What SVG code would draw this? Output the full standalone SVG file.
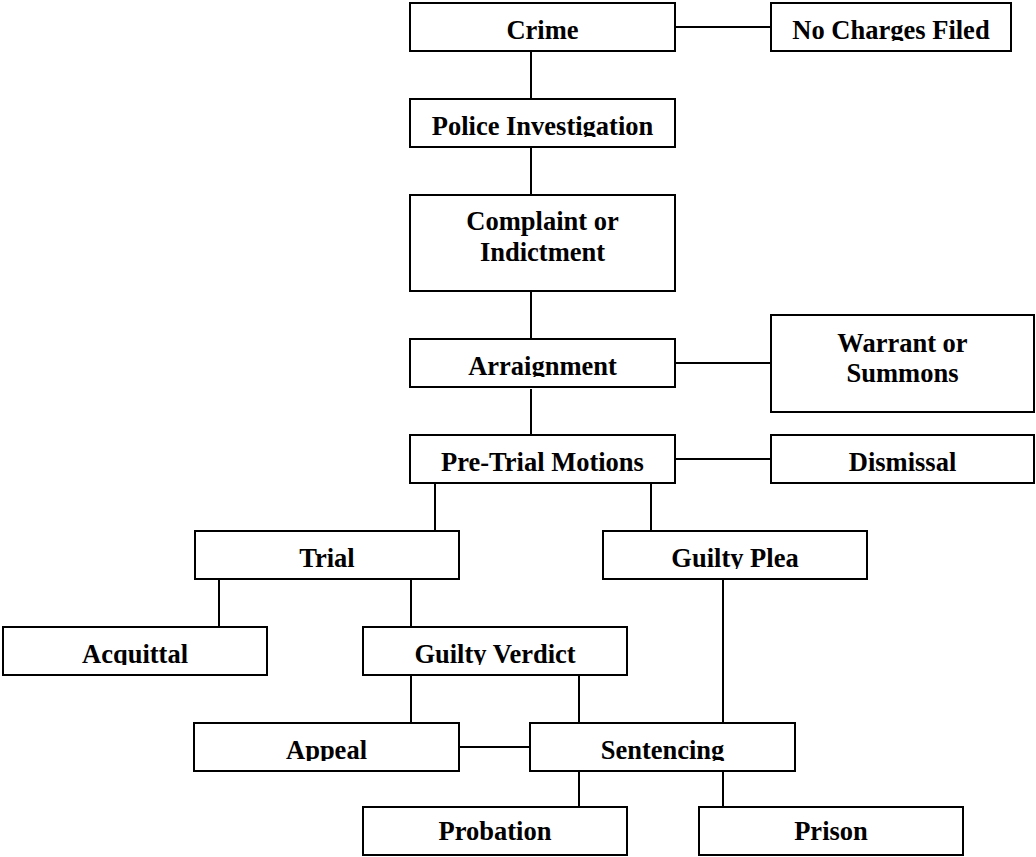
<svg xmlns="http://www.w3.org/2000/svg" width="1036" height="857" viewBox="0 0 1036 857">
  <style>
    .box { fill: #ffffff; stroke: #000000; stroke-width: 2; }
    .lbl { font-family: "Liberation Serif", "Times New Roman", serif; font-weight: bold; font-size: 26.5px; fill: #000000; text-anchor: middle; }
    .conn line { stroke: #000000; stroke-width: 2; }
  </style>
  <defs>
    <clipPath id="r1"><rect x="0" y="0" width="1036" height="41"/></clipPath>
    <clipPath id="r2"><rect x="0" y="99" width="1036" height="38"/></clipPath>
    <clipPath id="r5"><rect x="0" y="339" width="1036" height="38"/></clipPath>
    <clipPath id="r9"><rect x="0" y="531" width="1036" height="38"/></clipPath>
    <clipPath id="r11"><rect x="0" y="627" width="1036" height="38"/></clipPath>
    <clipPath id="r13"><rect x="0" y="723" width="1036" height="38"/></clipPath>
  </defs>
  <rect width="1036" height="857" fill="#ffffff"/>

  <g id="connectors" class="conn">
    <line x1="675" y1="27" x2="771" y2="27"/>
    <line x1="531" y1="51" x2="531" y2="99"/>
    <line x1="531" y1="147" x2="531" y2="195"/>
    <line x1="531" y1="291" x2="531" y2="339"/>
    <line x1="675" y1="363" x2="771" y2="363"/>
    <line x1="531" y1="389" x2="531" y2="435"/>
    <line x1="675" y1="459" x2="771" y2="459"/>
    <line x1="435" y1="483" x2="435" y2="531"/>
    <line x1="651" y1="483" x2="651" y2="531"/>
    <line x1="219" y1="579" x2="219" y2="627"/>
    <line x1="411" y1="579" x2="411" y2="627"/>
    <line x1="411" y1="675" x2="411" y2="723"/>
    <line x1="579" y1="675" x2="579" y2="723"/>
    <line x1="723" y1="579" x2="723" y2="723"/>
    <line x1="459" y1="747" x2="530" y2="747"/>
    <line x1="579" y1="771" x2="579" y2="807"/>
    <line x1="723" y1="771" x2="723" y2="807"/>
  </g>

  <g id="crime">
    <rect class="box" x="410" y="3" width="265" height="48"/>
    <text class="lbl" x="542.5" y="39">Crime</text>
  </g>
  <g id="no-charges">
    <rect class="box" x="771" y="3" width="240" height="48"/>
    <text class="lbl" x="891" y="39" clip-path="url(#r1)">No Charges Filed</text>
  </g>
  <g id="police">
    <rect class="box" x="410" y="99" width="265" height="48"/>
    <text class="lbl" x="542.5" y="135" clip-path="url(#r2)">Police Investigation</text>
  </g>
  <g id="complaint">
    <rect class="box" x="410" y="195" width="265" height="96"/>
    <text class="lbl" x="542.5" y="230">Complaint or</text>
    <text class="lbl" x="542.5" y="261">Indictment</text>
  </g>
  <g id="arraignment">
    <rect class="box" x="410" y="339" width="265" height="48"/>
    <text class="lbl" x="542.5" y="375" clip-path="url(#r5)">Arraignment</text>
  </g>
  <g id="warrant">
    <rect class="box" x="771" y="315" width="263" height="97"/>
    <text class="lbl" x="902.5" y="352">Warrant or</text>
    <text class="lbl" x="902.5" y="382">Summons</text>
  </g>
  <g id="pretrial">
    <rect class="box" x="410" y="435" width="265" height="48"/>
    <text class="lbl" x="542.5" y="471">Pre-Trial Motions</text>
  </g>
  <g id="dismissal">
    <rect class="box" x="771" y="435" width="263" height="48"/>
    <text class="lbl" x="902.5" y="471">Dismissal</text>
  </g>
  <g id="trial">
    <rect class="box" x="195" y="531" width="264" height="48"/>
    <text class="lbl" x="327" y="567">Trial</text>
  </g>
  <g id="guilty-plea">
    <rect class="box" x="603" y="531" width="264" height="48"/>
    <text class="lbl" x="735" y="567" clip-path="url(#r9)">Guilty Plea</text>
  </g>
  <g id="acquittal">
    <rect class="box" x="3" y="627" width="264" height="48"/>
    <text class="lbl" x="135" y="663" clip-path="url(#r11)">Acquittal</text>
  </g>
  <g id="guilty-verdict">
    <rect class="box" x="363" y="627" width="264" height="48"/>
    <text class="lbl" x="495" y="663" clip-path="url(#r11)">Guilty Verdict</text>
  </g>
  <g id="appeal">
    <rect class="box" x="194" y="723" width="265" height="48"/>
    <text class="lbl" x="326.5" y="759" clip-path="url(#r13)">Appeal</text>
  </g>
  <g id="sentencing">
    <rect class="box" x="530" y="723" width="265" height="48"/>
    <text class="lbl" x="662.5" y="759" clip-path="url(#r13)">Sentencing</text>
  </g>
  <g id="probation">
    <rect class="box" x="363" y="807" width="264" height="48"/>
    <text class="lbl" x="495" y="840">Probation</text>
  </g>
  <g id="prison">
    <rect class="box" x="699" y="807" width="264" height="48"/>
    <text class="lbl" x="831" y="840">Prison</text>
  </g>
</svg>
